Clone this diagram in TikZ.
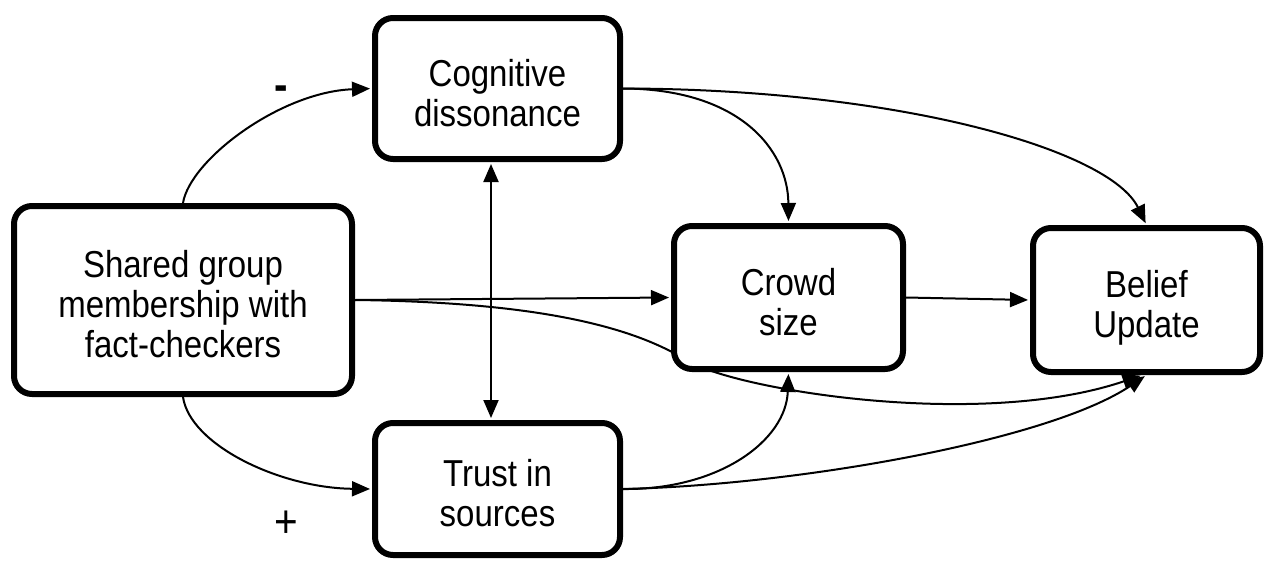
\documentclass[tikz,border=0pt]{standalone}
\usepackage{fontspec}
\setmainfont{Liberation Sans}[FakeStretch=0.88]
\usetikzlibrary{arrows.meta,backgrounds}
\newcommand{\boxtext}[1]{\raisebox{-16pt}[0pt][0pt]{\begin{tabular}{@{}c@{}}#1\end{tabular}}}
\begin{document}
\begin{tikzpicture}[x=1pt,y=-1pt,
  box/.style={draw, line width=6pt, rounded corners=18pt, fill=white,
    font=\fontsize{37.5}{40}\selectfont, inner sep=0pt},
  conn/.style={line width=2pt, -{Triangle[length=18pt,width=15pt]}, shorten >=2pt},
  sign/.style={font=\fontsize{46}{46}\selectfont, inner sep=0pt}]
\useasboundingbox (0,0) rectangle (1267,560);
\node[box, minimum width=338pt, minimum height=188pt] (sh) at (183,300) {\boxtext{Shared group\\membership with\\fact-checkers}};
\node[box, minimum width=245pt, minimum height=141pt] (cd) at (497.5,88.5) {\boxtext{Cognitive\\dissonance}};
\node[box, minimum width=245pt, minimum height=132pt] (tr) at (497.5,489) {\boxtext{Trust in\\sources}};
\node[box, minimum width=229pt, minimum height=143pt] (cr) at (788.5,297.5) {\boxtext{Crowd\\size}};
\node[box, minimum width=227pt, minimum height=144pt] (bu) at (1146.5,300) {\boxtext{Belief\\Update}};
\node[sign, font=\fontsize{46}{46}\selectfont\bfseries] (minus) at (281,93) {-};
\node[sign] (plus) at (286,524) {+};
\begin{scope}[on background layer]
\draw[conn] (sh.north) .. controls (190,160) and (280,92) .. (cd.west);
\draw[conn] (sh.south) .. controls (190,445) and (280,488) .. (tr.west);
\draw[line width=2pt, {Triangle[length=18pt,width=15pt]}-{Triangle[length=18pt,width=15pt]}, shorten <=2pt, shorten >=2pt]
  ([xshift=-6.5pt]cd.south) -- ([xshift=-6.5pt]tr.north);
\draw[conn] (sh.east) -- (cr.west);
\draw[conn] (sh.east) .. controls (520,302) and (625,322) .. (686,360)
  .. controls (735,390) and (980,430) .. ([xshift=-4pt]bu.south);
\draw[conn] (tr.east) .. controls (720,490) and (786,440) .. (cr.south);
\draw[conn] (tr.east) .. controls (800,485) and (1050,440) .. (bu.south);
\draw[conn] (cd.east) .. controls (740,89) and (788,150) .. (cr.north);
\draw[conn] (cd.east) .. controls (900,89) and (1110,150) .. (bu.north);
\draw[conn] (cr.east) -- (bu.west);
\end{scope}
\end{tikzpicture}
\end{document}
